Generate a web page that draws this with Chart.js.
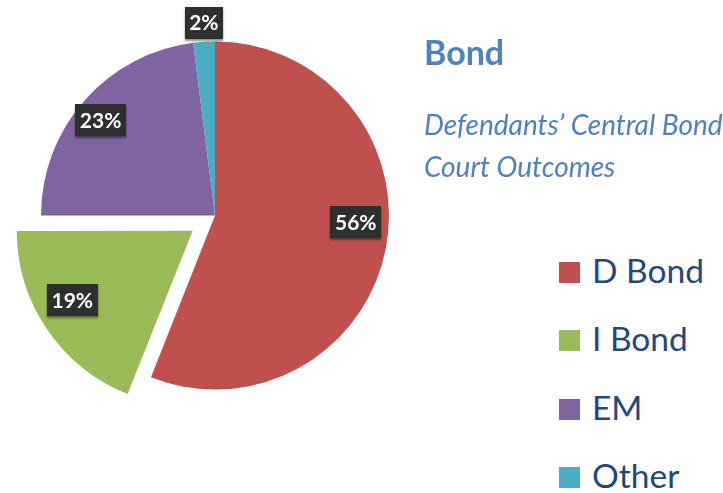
<!DOCTYPE html>
<html>
<head>
<meta charset="utf-8">
<script src="https://cdn.jsdelivr.net/npm/chart.js@4/dist/chart.umd.min.js"></script>
<style>
    html, body { margin: 0; padding: 0; background: #fff; }
    body { width: 723px; height: 493px; overflow: hidden; position: relative; font-family: Lato, 'Open Sans', sans-serif; }
    #pieWrap { position: absolute; left: 0; top: 0; width: 430px; height: 431px; }
    #title { position: absolute; left: 424px; top: 35px; font-size: 34px; line-height: 1; font-weight: 700; color: #4f81bd; white-space: nowrap; }
    #subtitle { position: absolute; left: 424px; top: 103px; font-size: 28px; line-height: 42px; font-style: italic; color: #4f81bd; white-space: nowrap; }
    #legend { position: absolute; left: 559px; top: 236px; font-size: 33.5px; line-height: 68.3px; color: #1f497d; white-space: nowrap; }
    #legend .sw { display: inline-block; width: 21px; height: 21px; margin-right: 12px; vertical-align: baseline; }
</style>
</head>
<body>
<div id="pieWrap"><canvas id="bondPie"></canvas></div>
<div id="title">Bond</div>
<div id="subtitle">Defendants’ Central Bond<br>Court Outcomes</div>
<div id="legend"></div>
<script>
const labels = ['D Bond', 'I Bond', 'EM', 'Other'];
const shares = [56, 19, 23, 2];
const colors = ['#c0504d', '#9bbb59', '#8064a2', '#4bacc6'];

// where each % box sits: fraction along the slice angle, fraction of radius
const labelAngleAt = [0.46, 0.56, 0.48, 0.54];
const labelRadiusAt = [0.81, 0.80, 0.855, 1.11];

document.getElementById('legend').innerHTML = labels.map((l, i) =>
    `<div><span class="sw" style="background:${colors[i]}"></span>${l}</div>`).join('');

const pctBoxes = {
    id: 'pctBoxes',
    afterDatasetsDraw(chart) {
        const ctx = chart.ctx;
        const meta = chart.getDatasetMeta(0);
        const offsets = chart.data.datasets[0].offset;
        ctx.save();
        ctx.font = "700 21px Lato, 'Open Sans', sans-serif";
        ctx.textAlign = 'center';
        ctx.textBaseline = 'middle';
        meta.data.forEach((arc, i) => {
            const { x, y, startAngle, endAngle, outerRadius } = arc.getProps(['x', 'y', 'startAngle', 'endAngle', 'outerRadius'], true);
            const mid = (startAngle + endAngle) / 2;
            const shift = (offsets[i] || 0) / 4;
            const cx = x + Math.cos(mid) * shift;
            const cy = y + Math.sin(mid) * shift;
            const a = startAngle + (endAngle - startAngle) * labelAngleAt[i];
            const r = outerRadius * labelRadiusAt[i];
            const px = cx + Math.cos(a) * r;
            const py = cy + Math.sin(a) * r;
            const txt = shares[i] + '%';
            const w = ctx.measureText(txt).width + 9;
            const h = 32;
            ctx.shadowColor = 'rgba(0,0,0,0.45)';
            ctx.shadowOffsetY = 2;
            ctx.shadowBlur = 2;
            ctx.fillStyle = '#2e3030';
            ctx.fillRect(Math.round(px - w / 2), Math.round(py - h / 2), Math.round(w), h);
            ctx.shadowColor = 'transparent';
            ctx.fillStyle = '#ffffff';
            ctx.fillText(txt, px, py + 1);
        });
        ctx.restore();
    }
};

new Chart(document.getElementById('bondPie'), {
    type: 'pie',
    data: {
        labels,
        datasets: [{
            data: shares,
            backgroundColor: colors,
            borderWidth: 0,
            offset: [0, 108, 0, 0],
        }],
    },
    options: {
        responsive: true,
        maintainAspectRatio: false,
        animation: false,
        radius: 174,
        layout: { padding: 0 },
        plugins: {
            legend: { display: false },
            tooltip: { enabled: false },
        },
    },
    plugins: [pctBoxes],
});
</script>
</body>
</html>
